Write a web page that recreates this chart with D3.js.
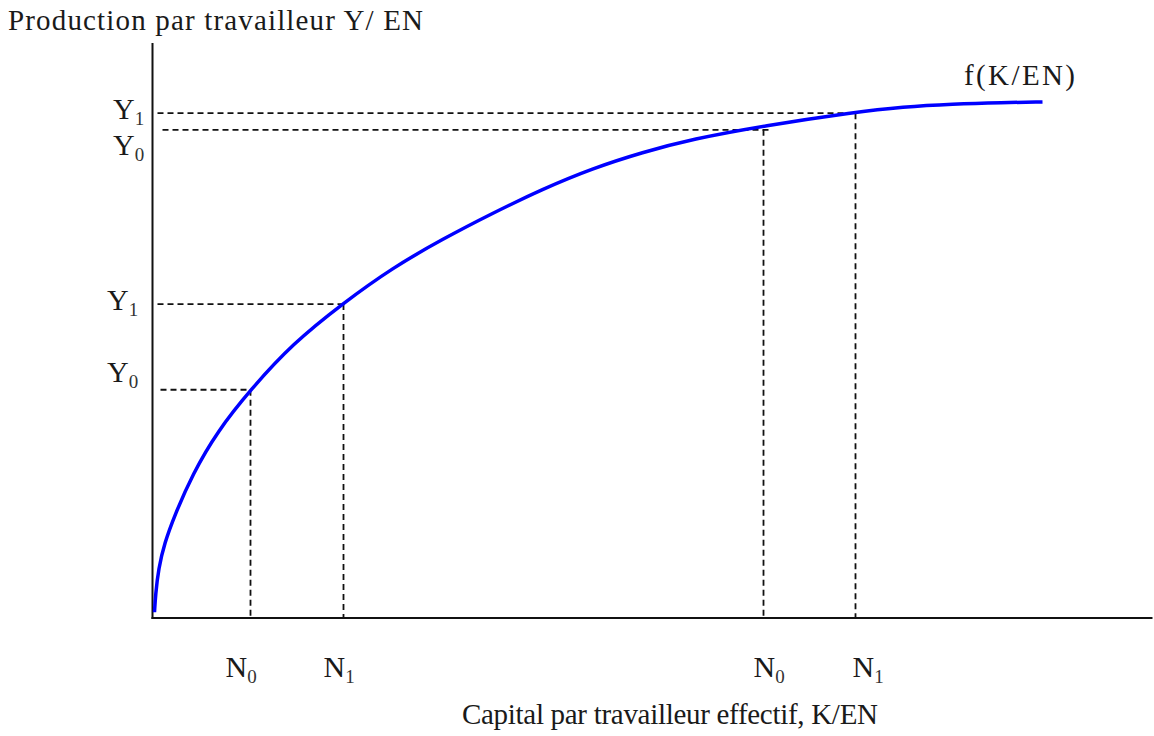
<!DOCTYPE html>
<html>
<head>
<meta charset="utf-8">
<script src="https://cdn.jsdelivr.net/npm/d3@7/dist/d3.min.js"></script>
<style>
  html, body { margin: 0; padding: 0; background: #fff; }
  svg { display: block; }
  text { font-family: "Liberation Serif", "DejaVu Serif", serif; fill: #1a1a1a; }
</style>
</head>
<body>
<svg id="chart" width="1154" height="736"></svg>
<script>
// ---- data (arbitrary units: K/EN on x, Y/EN on y) ----
const curveK = [0.2, 0.3, 0.6, 1.2, 2.2, 4.0, 6.5, 9.8, 14.0, 19.1, 24.0, 29.0, 34.0, 39.0, 44.0, 49.0, 54.0, 61.1, 70.3, 75.0, 80.0, 85.0, 89.0];
const curveY = [1.0, 4.0, 8.6, 13.0, 17.8, 25.0, 32.5, 39.7, 47.7, 54.8, 60.9, 65.9, 70.4, 74.6, 78.2, 81.0, 83.3, 85.6, 88.0, 88.9, 89.4, 89.65, 89.75];

const nValues = [9.8, 19.1, 61.1, 70.3];          // N0, N1 (low), N0, N1 (high)
const nLabels = ["0", "1", "0", "1"];             // subscripts of N
const yValues = [39.7, 54.6, 84.9, 87.8];          // Y0, Y1 (low), Y0, Y1 (high)
const yLabels = ["0", "1", "0", "1"];             // subscripts of Y

const titleY = "Production par travailleur Y/ EN";
const titleX = "Capital par travailleur effectif, K/EN";
const curveName = "f(K/EN)";

// ---- layout ----
const svg = d3.select("#chart");
const x = d3.scaleLinear().domain([0, 100]).range([152.5, 1152.5]);
const y = d3.scaleLinear().domain([0, 100]).range([618, 43]);

const points = curveK.map((k, i) => [k, curveY[i]]);

// dashed guides
const guides = svg.append("g").attr("stroke", "#111").attr("stroke-width", 1.8)
  .attr("stroke-dasharray", "6,4").attr("fill", "none");

const hEnds = [nValues[0], nValues[1], nValues[2] + 0.5, nValues[3]];
const hStarts = [0.8, 0.5, 1.0, 0.5];
yValues.forEach((v, i) => {
  guides.append("line")
    .attr("x1", x(hStarts[i])).attr("x2", x(hEnds[i]))
    .attr("y1", y(v)).attr("y2", y(v));
});
nValues.forEach((v, i) => {
  guides.append("line")
    .attr("x1", x(v)).attr("x2", x(v))
    .attr("y1", y(yValues[i])).attr("y2", y(0));
});

// axes
const axes = svg.append("g").attr("stroke", "#111").attr("stroke-width", 2);
axes.append("line").attr("x1", x(0)).attr("x2", x(0)).attr("y1", y(100)).attr("y2", y(0) + 1);
axes.append("line").attr("x1", x(0) - 1).attr("x2", x(100)).attr("y1", y(0)).attr("y2", y(0));

// curve
const line = d3.line().x(d => x(d[0])).y(d => y(d[1])).curve(d3.curveBasis);
svg.append("path").datum(points)
  .attr("d", line)
  .attr("fill", "none")
  .attr("stroke", "#0000ff")
  .attr("stroke-width", 3.5);

// labels
function subLabel(g, base, sub, px, py, size, subSize) {
  const t = g.append("text").attr("x", px).attr("y", py).attr("font-size", size);
  t.append("tspan").text(base);
  t.append("tspan").text(sub).attr("font-size", subSize).attr("dy", 6).attr("fill", "#333");
  return t;
}
const lab = svg.append("g");
const yDy = [-8, 6, 25, 6];
const yDx = [107, 107, 113, 113];
yValues.forEach((v, i) => subLabel(lab, "Y", yLabels[i], yDx[i], y(v) + yDy[i], 30, 19));
const nDx = [-25, -20, -10, -3];
nValues.forEach((v, i) => subLabel(lab, "N", nLabels[i], x(v) + nDx[i], 677, 30, 19));

svg.append("text").attr("x", 8).attr("y", 30).attr("font-size", 29)
  .attr("textLength", 415).attr("lengthAdjust", "spacing").text(titleY);
svg.append("text").attr("x", 462).attr("y", 724).attr("font-size", 29)
  .attr("textLength", 416).attr("lengthAdjust", "spacing").text(titleX);
svg.append("text").attr("x", 964).attr("y", 85).attr("font-size", 29)
  .attr("textLength", 111).attr("lengthAdjust", "spacing").text(curveName);
</script>
</body>
</html>
